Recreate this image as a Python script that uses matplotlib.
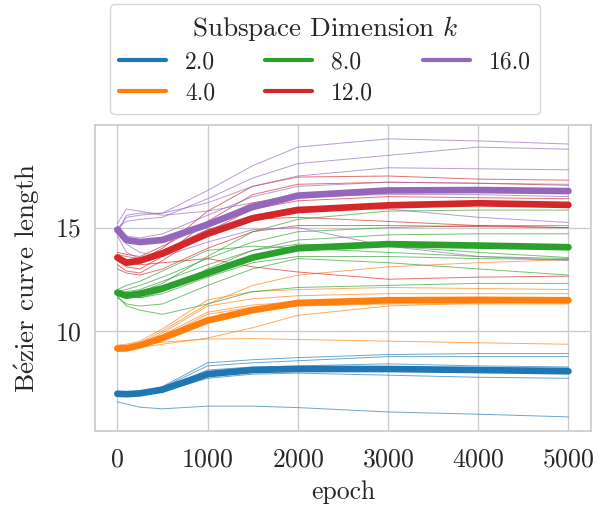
import numpy as np
import matplotlib
matplotlib.use("Agg")
import matplotlib.pyplot as plt
import seaborn as sns
from matplotlib.lines import Line2D

sns.set_theme(style="whitegrid")
plt.rcParams["font.family"] = ["cmr10", "DejaVu Serif"]
plt.rcParams["mathtext.fontset"] = "cm"
plt.rcParams["axes.formatter.use_mathtext"] = True

epochs = [0, 100, 250, 500, 1000, 1500, 2000, 3000, 4000, 5000]
dims = [2.0, 4.0, 8.0, 12.0, 16.0]
colors = ["#1f77b4", "#ff7f0e", "#2ca02c", "#d62728", "#9467bd"]

# individual runs per subspace dimension
runs_k2 = [
    [6.95, 6.95, 7.00, 7.30, 8.45, 8.60, 8.70, 8.85, 8.90, 8.90],
    [6.90, 6.90, 6.95, 7.25, 8.30, 8.45, 8.55, 8.75, 8.75, 8.75],
    [7.00, 6.95, 7.00, 7.20, 8.10, 8.25, 8.30, 8.40, 8.30, 8.25],
    [6.90, 6.90, 6.95, 7.15, 7.90, 8.10, 8.15, 8.20, 8.15, 8.15],
    [6.95, 6.90, 6.95, 7.10, 7.80, 8.00, 8.05, 8.05, 8.00, 7.95],
    [7.00, 6.95, 6.95, 7.05, 7.70, 7.90, 7.95, 7.85, 7.75, 7.70],
    [6.85, 6.85, 6.90, 7.15, 8.00, 8.15, 8.20, 8.25, 8.20, 8.20],
    [6.56, 6.45, 6.30, 6.22, 6.35, 6.35, 6.28, 6.07, 5.96, 5.83],
]
runs_k4 = [
    [9.10, 9.20, 9.40, 10.00, 11.30, 12.20, 12.70, 13.10, 13.30, 13.45],
    [9.30, 9.35, 9.50, 10.10, 11.50, 11.90, 12.00, 12.10, 12.05, 12.00],
    [9.00, 9.10, 9.30, 9.90, 11.20, 11.55, 11.70, 11.80, 11.80, 11.80],
    [9.20, 9.20, 9.35, 9.80, 10.90, 11.25, 11.40, 11.55, 11.55, 11.50],
    [9.10, 9.10, 9.25, 9.70, 10.80, 11.15, 11.30, 11.40, 11.40, 11.35],
    [9.00, 9.05, 9.20, 9.60, 10.60, 11.00, 11.20, 11.30, 11.30, 11.30],
    [9.20, 9.15, 9.20, 9.35, 9.65, 10.15, 10.75, 11.20, 11.35, 11.40],
    [9.30, 9.25, 9.30, 9.45, 9.60, 9.62, 9.58, 9.50, 9.42, 9.35],
]
runs_k8 = [
    [11.80, 11.85, 11.90, 12.30, 13.60, 14.80, 15.40, 15.80, 15.85, 15.85],
    [11.90, 12.00, 12.20, 12.60, 13.50, 14.30, 14.80, 15.00, 15.10, 15.10],
    [11.70, 11.65, 11.60, 11.90, 13.00, 13.90, 14.40, 14.65, 14.70, 14.70],
    [11.80, 11.90, 12.00, 12.40, 13.20, 13.90, 14.20, 14.10, 13.80, 13.55],
    [11.90, 11.70, 11.60, 11.80, 12.60, 13.30, 13.60, 13.60, 13.50, 13.45],
    [11.60, 11.30, 11.20, 11.30, 12.20, 13.00, 13.50, 13.30, 13.00, 12.70],
    [11.70, 11.20, 11.00, 10.80, 11.30, 11.90, 12.10, 12.20, 12.30, 12.30],
    [12.00, 12.20, 12.40, 12.90, 13.90, 14.10, 14.00, 13.80, 13.60, 13.50],
]
runs_k12 = [
    [13.60, 13.40, 13.40, 14.00, 15.80, 17.00, 17.45, 17.50, 17.35, 17.30],
    [13.40, 13.10, 13.00, 13.60, 15.30, 16.60, 17.10, 17.20, 17.15, 17.05],
    [13.80, 13.70, 13.60, 14.10, 15.20, 16.20, 16.60, 16.80, 16.85, 16.80],
    [13.20, 12.90, 12.80, 13.40, 14.80, 15.90, 16.30, 16.50, 16.45, 16.40],
    [13.50, 13.30, 13.30, 13.70, 14.60, 15.50, 15.90, 16.10, 16.15, 16.15],
    [13.00, 12.80, 12.70, 13.00, 14.00, 14.80, 15.10, 15.10, 15.05, 15.00],
    [13.50, 13.30, 13.20, 13.30, 13.50, 13.10, 12.85, 12.50, 12.60, 12.65],
    [13.70, 13.60, 13.50, 13.90, 14.90, 15.40, 15.50, 15.30, 15.10, 15.00],
]
runs_k16 = [
    [14.90, 15.50, 15.60, 15.70, 16.80, 18.00, 18.90, 19.30, 19.20, 19.05],
    [15.00, 15.30, 15.40, 15.50, 16.40, 17.40, 18.10, 18.50, 18.90, 18.80],
    [14.70, 15.60, 15.70, 15.70, 16.20, 17.00, 17.50, 17.90, 17.85, 17.80],
    [15.10, 14.60, 14.50, 14.70, 15.60, 16.50, 17.00, 17.20, 17.15, 17.10],
    [14.80, 14.30, 14.20, 14.40, 15.20, 16.10, 16.60, 16.80, 16.80, 16.70],
    [14.60, 13.80, 13.50, 13.80, 14.90, 15.60, 16.00, 15.90, 15.50, 15.25],
    [14.90, 14.20, 13.80, 13.60, 14.30, 14.90, 15.00, 14.10, 13.60, 13.40],
    [15.20, 15.90, 15.80, 15.60, 15.80, 16.20, 16.50, 16.60, 16.60, 16.50],
]

# average curve per dimension (thick lines)
mean_k2 = [6.95, 6.93, 6.97, 7.15, 7.90, 8.10, 8.15, 8.15, 8.10, 8.04]
mean_k4 = [9.15, 9.15, 9.30, 9.65, 10.50, 11.00, 11.35, 11.48, 11.50, 11.48]
mean_k8 = [11.85, 11.70, 11.80, 12.05, 12.80, 13.55, 14.00, 14.20, 14.13, 14.05]
mean_k12 = [13.55, 13.30, 13.40, 13.75, 14.70, 15.45, 15.85, 16.08, 16.18, 16.10]
mean_k16 = [14.90, 14.40, 14.30, 14.40, 15.15, 16.00, 16.55, 16.80, 16.82, 16.77]

all_runs = [runs_k2, runs_k4, runs_k8, runs_k12, runs_k16]
all_means = [mean_k2, mean_k4, mean_k8, mean_k12, mean_k16]

fig, ax = plt.subplots(figsize=(6, 5.08), dpi=100)
fig.subplots_adjust(left=0.158, right=0.985, top=0.754, bottom=0.152)

for runs, c in zip(all_runs, colors):
    for r in runs:
        ax.plot(epochs, r, color=c, lw=0.7, alpha=0.65)
for m, c in zip(all_means, colors):
    ax.plot(epochs, m, color=c, lw=4.8, solid_capstyle="round")

ax.set_xticks([0, 1000, 2000, 3000, 4000, 5000])
ax.set_yticks([10, 15])
ax.tick_params(labelsize=18.5)
ax.tick_params(axis="x", pad=6.5)
ax.set_xlabel("epoch", fontsize=18.5, labelpad=6)
ax.set_ylabel(r"B$\mathrm{\acute{e}}$zier curve length", fontsize=19.5, labelpad=9)

handles = [Line2D([], [], color=c, lw=3) for c in colors]
labels = [str(d) for d in dims]
leg = ax.legend(handles, labels, title=r"Subspace Dimension $k$", ncol=3,
                loc="lower center", bbox_to_anchor=(0.464, 1.036), borderaxespad=0,
                fontsize=17, title_fontsize=19.5, labelspacing=0.37,
                columnspacing=2.1, frameon=True)

fig.savefig("out.png", dpi=100)
